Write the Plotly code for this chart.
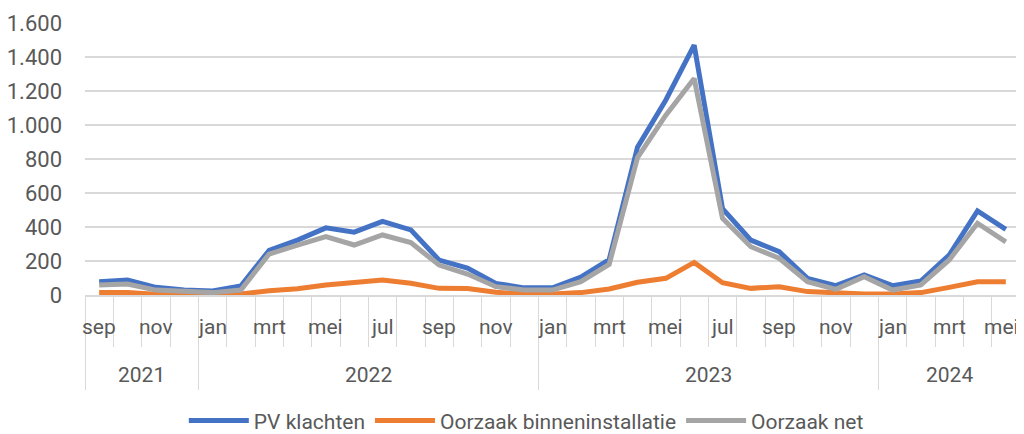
import plotly.graph_objects as go

# monthly values sep 2021 .. mei 2024
maanden = ["sep", "okt", "nov", "dec",
           "jan", "feb", "mrt", "apr", "mei", "jun", "jul", "aug", "sep", "okt", "nov", "dec",
           "jan", "feb", "mrt", "apr", "mei", "jun", "jul", "aug", "sep", "okt", "nov", "dec",
           "jan", "feb", "mrt", "apr", "mei"]
jaren = ["2021", "2022", "2023", "2024"]
maanden_per_jaar = [4, 12, 12, 5]

pv_klachten = [78, 88, 45, 29, 24, 53, 263, 323, 395, 370, 433, 383, 205, 158, 68, 42,
               42, 105, 208, 870, 1147, 1470, 508, 323, 255, 98, 55, 118, 55, 82, 235, 494, 386]
binneninstallatie = [14, 14, 5, 3, 3, 6, 25, 37, 59, 72, 88, 69, 39, 38, 16, 6,
                     6, 14, 35, 75, 98, 192, 72, 39, 49, 20, 10, 6, 6, 14, 45, 78, 78]
oorzaak_net = [59, 65, 29, 18, 14, 29, 241, 294, 343, 294, 353, 308, 176, 123, 49, 29,
               29, 78, 180, 808, 1058, 1274, 451, 284, 216, 78, 33, 108, 29, 59, 206, 422, 313]

FONT = "Roboto, sans-serif"
TXT = "#595959"
GRID = "#d9d9d9"

x = list(range(len(maanden)))

fig = go.Figure()
for naam, y, kleur in [("PV klachten", pv_klachten, "#4472C4"),
                       ("Oorzaak binneninstallatie", binneninstallatie, "#ED7D31"),
                       ("Oorzaak net", oorzaak_net, "#A5A5A5")]:
    fig.add_trace(go.Scatter(x=x, y=y, mode="lines", name=naam,
                             line=dict(color=kleur, width=5)))

# year boundaries
grenzen = [-0.5]
for n in maanden_per_jaar:
    grenzen.append(grenzen[-1] + n)

# month labels (every other month)
for i, m in enumerate(maanden):
    if i % 2 == 0:
        fig.add_annotation(x=i, y=-0.118, xref="x", yref="paper", text=m,
                           showarrow=False, font=dict(size=21, color=TXT, family=FONT),
                           yanchor="middle", xshift=-4 if i == len(maanden) - 1 else 0)
# year labels
for j, jaar in enumerate(jaren):
    fig.add_annotation(x=(grenzen[j] + grenzen[j + 1]) / 2, y=-0.294, xref="x", yref="paper",
                       text=jaar, showarrow=False,
                       font=dict(size=21, color=TXT, family=FONT), yanchor="middle")

# page body adds an 8px offset, so the figure is sized/margined to compensate
fig.update_layout(
    width=1016, height=426,
    margin=dict(l=77, r=4, t=15, b=139, autoexpand=False),
    plot_bgcolor="white", paper_bgcolor="white",
    separators=",.",
    font=dict(family=FONT, size=21, color=TXT),
    showlegend=True,
    legend=dict(orientation="h", x=0.472, xanchor="center", yref="container",
                y=0.031, yanchor="middle", itemwidth=60,
                font=dict(size=21, color=TXT, family=FONT)),
    xaxis=dict(range=[-0.5, len(maanden) - 0.5], showgrid=False, zeroline=False,
               showline=True, linecolor=GRID, linewidth=1.5,
               showticklabels=False,
               tickmode="array", tickvals=grenzen, ticks="outside", ticklen=93,
               tickcolor=GRID, tickwidth=1.3,
               minor=dict(tickmode="linear", tick0=0.5, dtick=1, ticks="outside",
                          ticklen=50, tickcolor=GRID, tickwidth=1.3)),
    yaxis=dict(range=[0, 1600], dtick=200, tickformat=",", showgrid=True,
               gridcolor=GRID, gridwidth=1.5, zeroline=False, showline=False,
               ticklabelstandoff=22, tickfont=dict(size=22, color=TXT, family=FONT)),
)

fig.write_html("out.html")
